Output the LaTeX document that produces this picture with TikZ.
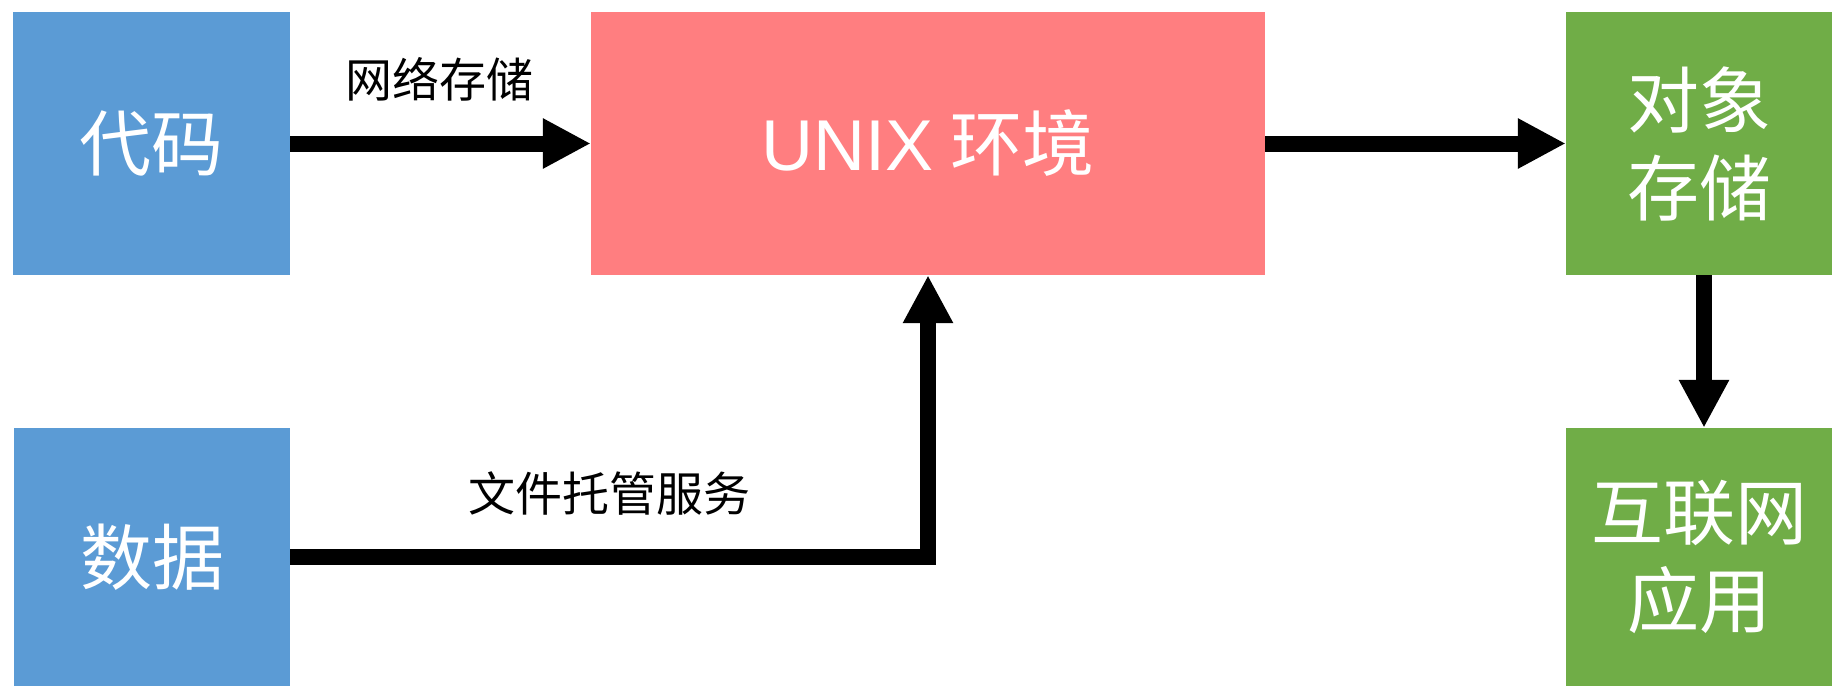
\documentclass[tikz,border=0pt]{standalone}
\usepackage{fontspec}
\setmainfont{Noto Sans CJK SC}
\newfontfamily\latinfont{Liberation Sans}
\usetikzlibrary{arrows.meta}
\definecolor{boxblue}{HTML}{5B9BD5}
\definecolor{boxpink}{HTML}{FF7E80}
\definecolor{boxgreen}{HTML}{70AD47}
\tikzset{
  box/.style={rectangle, inner sep=0pt, text=white, align=center,
    font=\fontsize{72}{88}\selectfont},
  lbl/.style={inner sep=0pt, text=black, font=\fontsize{47}{56}\selectfont},
  conn/.style={line width=16pt, -{Triangle[length=48pt,width=47pt]}},
}
\begin{document}
\begin{tikzpicture}[x=1pt,y=-1pt]
\useasboundingbox (0,0) rectangle (1832,686);
\node[box, fill=boxblue, minimum width=277pt, minimum height=263pt] (code) at (151.5,143.5) {代码};
\node[box, fill=boxblue, minimum width=276pt, minimum height=258pt] (data) at (152,557) {数据};
\node[box, fill=boxpink, minimum width=674pt, minimum height=263pt] (unix) at (928,143.5) {{\latinfont UNIX} 环境};
\node[box, fill=boxgreen, minimum width=266pt, minimum height=263pt] (obj) at (1699,143.5) {对象\\存储};
\node[box, fill=boxgreen, minimum width=266pt, minimum height=258pt] (web) at (1699,557) {互联网\\应用};
\node[lbl] (l1) at (439,79.5) {网络存储};
\node[lbl] (l2) at (609,493) {文件托管服务};
\draw[conn] (code.east) -- (unix.west);
\draw[conn] (unix.east) -- (obj.west);
\draw[conn] ([xshift=5pt]obj.south) -- ([xshift=5pt]web.north);
\draw[conn] (data.east) -| (unix.south);
\end{tikzpicture}
\end{document}
